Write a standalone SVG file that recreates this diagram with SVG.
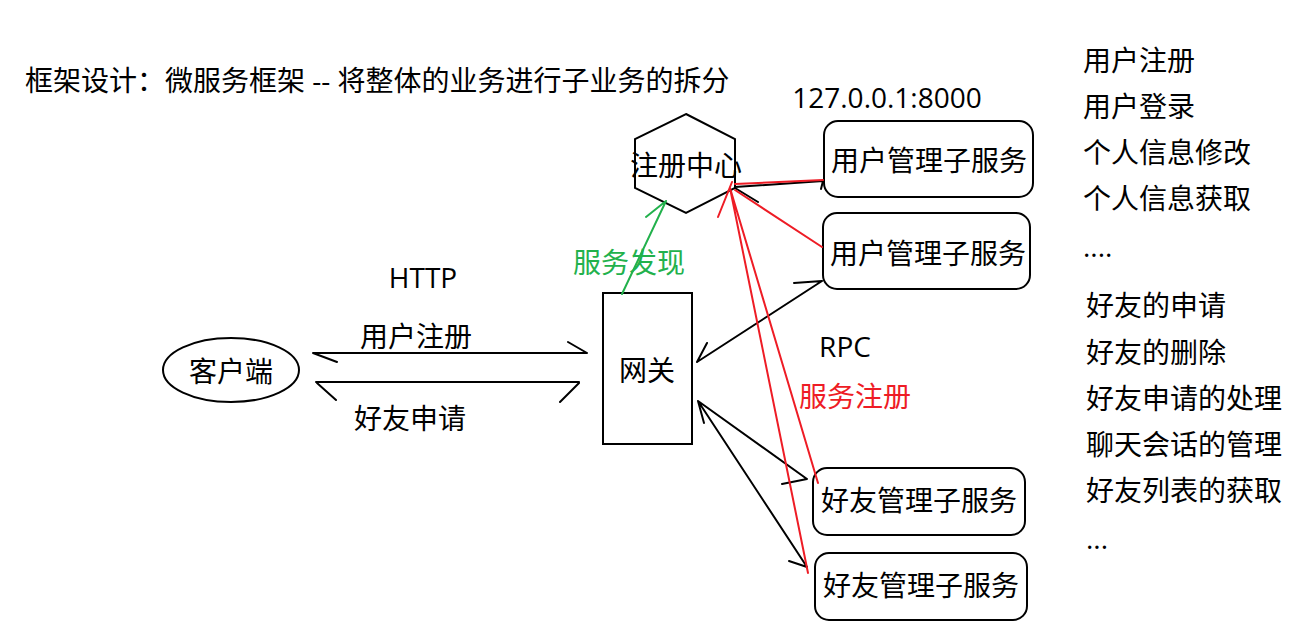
<svg xmlns="http://www.w3.org/2000/svg" width="1313" height="644" viewBox="0 0 1313 644">
<style>
.t{font-family:"Open Sans","Noto Sans CJK SC",sans-serif;font-size:28px;fill:#000;dominant-baseline:central}
.m{text-anchor:middle}
.box{fill:#fff;stroke:#000;stroke-width:2}
.k{fill:none;stroke:#000;stroke-width:2;stroke-linecap:round}
.r{fill:none;stroke:#ee1c25;stroke-width:2;stroke-linecap:round}
.g{fill:none;stroke:#22b14c;stroke-width:2;stroke-linecap:round}
</style>
<rect width="1313" height="644" fill="#fff"/>
<text class="t" x="25" y="80">框架设计：微服务框架 -- 将整体的业务进行子业务的拆分</text>
<text class="t m" x="887" y="97">127.0.0.1:8000</text>
<g id="list">
<text class="t" x="1083" y="60">用户注册</text>
<text class="t" x="1083" y="106">用户登录</text>
<text class="t" x="1083" y="152">个人信息修改</text>
<text class="t" x="1083" y="198">个人信息获取</text>
<text class="t" x="1083" y="246">....</text>
<text class="t" x="1086" y="305">好友的申请</text>
<text class="t" x="1086" y="352">好友的删除</text>
<text class="t" x="1086" y="398">好友申请的处理</text>
<text class="t" x="1086" y="444">聊天会话的管理</text>
<text class="t" x="1086" y="490">好友列表的获取</text>
<text class="t" x="1086" y="538">...</text>
</g>
<g id="client">
<ellipse class="box" cx="231" cy="370" rx="68" ry="32"/>
<text class="t m" x="231" y="371">客户端</text>
</g>
<g id="gateway">
<rect class="box" x="603" y="293" width="89" height="151"/>
<text class="t m" x="647" y="370">网关</text>
</g>
<g id="registry">
<polygon class="box" points="686,114 735,139 735,188 686,213 635,188 635,139"/>
<text class="t m" x="686" y="165">注册中心</text>
</g>
<g id="user1">
<rect class="box" x="824" y="121" width="209" height="76" rx="14"/>
<text class="t m" x="929" y="160">用户管理子服务</text>
</g>
<g id="user2">
<rect class="box" x="823" y="213" width="207" height="76" rx="14"/>
<text class="t m" x="928" y="253">用户管理子服务</text>
</g>
<g id="friend1">
<rect class="box" x="813" y="468" width="212" height="67" rx="14"/>
<text class="t m" x="919" y="500">好友管理子服务</text>
</g>
<g id="friend2">
<rect class="box" x="815" y="553" width="212" height="67" rx="14"/>
<text class="t m" x="921" y="585">好友管理子服务</text>
</g>
<g id="connectors">
<path class="k" d="M313,353 L587,353 M587,353 L568,342 M313,353 L337,362"/>
<path class="k" d="M316,382 L579,382 M579,383 L560,402 M317,383 L336,400"/>
<path class="g" d="M622,294 L666,201 M666,201 L646,217"/>
<path class="k" d="M822,281 L697,362 M697,362 L707,343 M822,281 L794,283"/>
<path class="k" d="M698,401 L807,479 M807,479 L782,484 M698,401 L807,567 M807,567 L789,561 M698,401 L704,423"/>
<path class="k" d="M735,187 L823,181 M823,181 L821,189 M735,188 L758,202"/>
<path class="r" d="M735,184 L823,180 M735,190 L822,247 M730,188 L818,483 M730,188 L808,573 M732,182 L718,217"/>
<text class="t m" x="423" y="277">HTTP</text>
<text class="t m" x="416" y="336">用户注册</text>
<text class="t m" x="410" y="418">好友申请</text>
<text class="t m" x="629" y="262" style="fill:#22b14c">服务发现</text>
<text class="t m" x="845" y="346">RPC</text>
<text class="t m" x="855" y="396" style="fill:#ee1c25">服务注册</text>
</g>
</svg>
